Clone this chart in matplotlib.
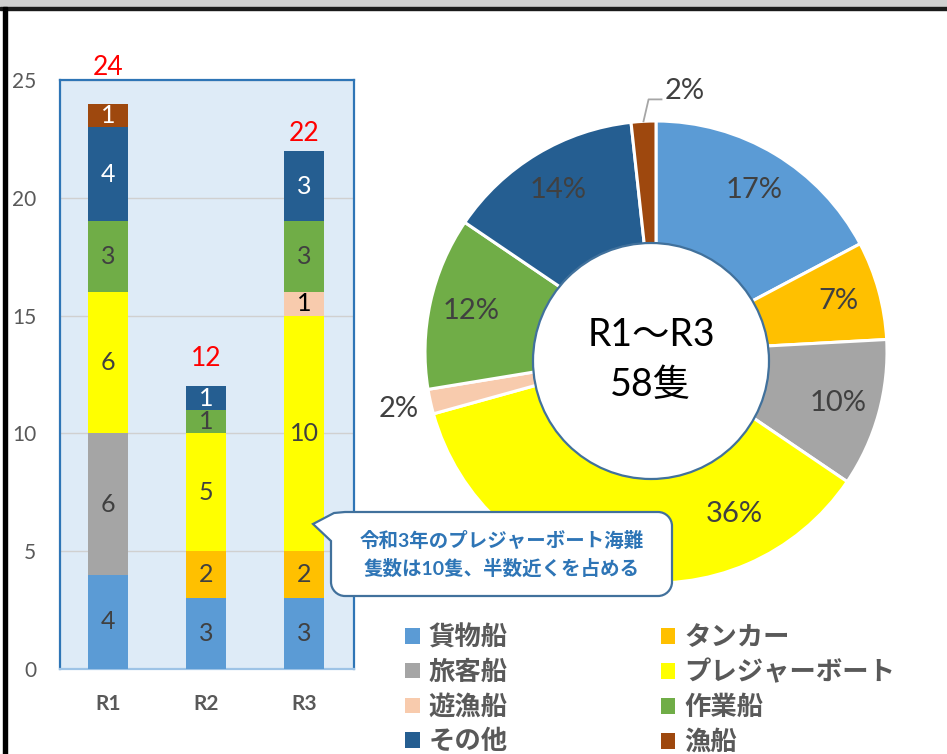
import numpy as np
import matplotlib.pyplot as plt
from matplotlib.patches import Rectangle, Circle, PathPatch
from matplotlib.path import Path

plt.rcParams['font.family'] = ['Lato', 'Noto Sans CJK JP', 'DejaVu Sans']

# --- データ ---
years = ['R1', 'R2', 'R3']
kinds = ['貨物船', 'タンカー', '旅客船', 'プレジャーボート', '遊漁船', '作業船', 'その他', '漁船']
counts = {
    '貨物船': [4, 3, 3],
    'タンカー': [0, 2, 2],
    '旅客船': [6, 0, 0],
    'プレジャーボート': [6, 5, 10],
    '遊漁船': [0, 0, 1],
    '作業船': [3, 1, 3],
    'その他': [4, 1, 3],
    '漁船': [1, 0, 0],
}
colors = ['#5B9BD5', '#FFC000', '#A5A5A5', '#FFFF00', '#F8CBAD', '#70AD47', '#255E91', '#9E480E']
label_colors = ['#404040', '#404040', '#404040', '#404040', '#000000', '#404040', 'white', 'white']
center_text = ['R1～R3', '58隻']
callout_lines = ['令和3年のプレジャーボート海難', '隻数は10隻、半数近くを占める']

W, H = 947, 754
fig = plt.figure(figsize=(W / 100, H / 100), dpi=100)

# 枠（上の灰色帯と左の黒線）
fig.patches.append(Rectangle((0, 1 - 7 / H), 1, 7 / H, transform=fig.transFigure, color='#D0D0D0', zorder=0))
fig.patches.append(Rectangle((0, 1 - 10 / H), 1, 3 / H, transform=fig.transFigure, color='#1A1A1A', zorder=0))
fig.patches.append(Rectangle((3 / W, 0), 4 / W, 1 - 7 / H, transform=fig.transFigure, color='#000000', zorder=0))

# --- 積み上げ棒グラフ ---
ax = fig.add_axes([60 / W, 85 / H, 294 / W, 589 / H])
ax.set_facecolor('#DEEBF7')
x = np.arange(len(years))
bottom = np.zeros(len(years))
for k, c, lc in zip(kinds, colors, label_colors):
    vals = np.array(counts[k])
    bars = ax.bar(x, vals, 0.4, bottom=bottom, color=c, zorder=3)
    ax.bar_label(bars, labels=[str(v) if v else '' for v in vals], label_type='center',
                 color=lc, fontsize=18)
    bottom += vals

total_pad = [1.55, 1.2, 0.75]
for i, t in enumerate(bottom):
    ax.text(i, t + total_pad[i], f'{int(t)}', color='red', fontsize=19, ha='center', va='center',
            clip_on=False)

ax.set_xlim(-0.49, 2.51)
ax.set_ylim(0, 25)
ax.set_yticks([0, 5, 10, 15, 20, 25])
ax.set_xticks(x, years)
ax.yaxis.grid(True, color='#D0D0D0', linewidth=1, zorder=0)
ax.tick_params(axis='y', length=0, pad=17, labelsize=15, labelcolor='#595959')
ax.tick_params(axis='x', length=0, pad=18, labelsize=15, labelcolor='#595959')
for lbl in ax.get_xticklabels():
    lbl.set_fontweight('bold')
for s in ax.spines.values():
    s.set_color('#2E75B6')
    s.set_linewidth(1.6)
ax.spines['bottom'].set_color('#9DC3E6')

# --- ドーナツグラフ ---
cx, cy, R = 656, 352, 231
pax = fig.add_axes([(cx - R) / W, (H - cy - R) / H, 2 * R / W, 2 * R / H])
totals = [sum(counts[k]) for k in kinds]
wedges, texts = pax.pie(totals, colors=colors, startangle=90, counterclock=False,
                        wedgeprops=dict(width=0.55, edgecolor='white', linewidth=2.2))
for t in texts:
    t.remove()
pax.set_xlim(-1, 1)
pax.set_ylim(-1, 1)
pax.set_aspect('equal')
pax.axis('off')

# 吹き出しと重ならないように移動したラベル
moved_label = {'プレジャーボート': (0.34, -0.70)}

grand = sum(totals)
for i, w in enumerate(wedges):
    ang = np.deg2rad((w.theta1 + w.theta2) / 2)
    pct = f'{round(totals[i] / grand * 100)}%'
    if kinds[i] in moved_label:
        lx, ly = moved_label[kinds[i]]
        pax.text(lx, ly, pct, fontsize=21, color='#404040', ha='center', va='center')
    elif totals[i] / grand < 0.03:
        if kinds[i] == '漁船':
            sx, sy = np.cos(ang), np.sin(ang)
            ex, ey = sx + 0.022, sy + 0.095
            pax.plot([sx, ex, ex + 0.056], [sy, ey, ey], color='#A6A6A6', lw=1.3, clip_on=False)
            pax.text(ex + 0.07, ey + 0.035, pct, fontsize=21, color='#404040', ha='left', va='center')
        else:
            pax.text(1.14 * np.cos(ang), 1.14 * np.sin(ang), pct, fontsize=21, color='#404040',
                     ha='center', va='center')
    else:
        pax.text(0.82 * np.cos(ang), 0.82 * np.sin(ang), pct, fontsize=21, color='#404040',
                 ha='center', va='center')

ox, oy = -5 / R, -9 / R
pax.add_patch(Circle((ox, oy), 118 / R, facecolor='white', edgecolor='#41719C', lw=1.6, zorder=5))
pax.text(ox, oy + 26 / R, center_text[0], fontsize=27, ha='center', va='center', zorder=6)
pax.text(ox, oy - 24 / R, center_text[1], fontsize=27, ha='center', va='center', zorder=6)

# --- 吹き出し ---
x0, x1, y0, y1, r = 331, 672, 512, 596, 14
k = 0.55 * r
pts = [(x0 + r, y0), (x1 - r, y0),
       (x1 - r + k, y0), (x1, y0 + r - k), (x1, y0 + r),
       (x1, y1 - r),
       (x1, y1 - r + k), (x1 - r + k, y1), (x1 - r, y1),
       (x0 + r, y1),
       (x0 + r - k, y1), (x0, y1 - r + k), (x0, y1 - r),
       (x0, 541), (313, 524), (334, 513), (x0 + r, y0)]
codes = [Path.MOVETO, Path.LINETO,
         Path.CURVE4, Path.CURVE4, Path.CURVE4,
         Path.LINETO,
         Path.CURVE4, Path.CURVE4, Path.CURVE4,
         Path.LINETO,
         Path.CURVE4, Path.CURVE4, Path.CURVE4,
         Path.LINETO, Path.LINETO, Path.LINETO, Path.CLOSEPOLY]
pts = [(px / W, 1 - py / H) for px, py in pts]
fig.patches.append(PathPatch(Path(pts, codes), transform=fig.transFigure, facecolor='white',
                             edgecolor='#41719C', lw=1.6, zorder=10))
for j, line in enumerate(callout_lines):
    fig.text((x0 + x1) / 2 / W, 1 - (540 + 28 * j) / H, line, fontsize=14, fontweight='bold',
             color='#2E75B6', ha='center', va='center', zorder=11)

# --- 凡例 ---
order = [0, 2, 4, 6, 1, 3, 5, 7]
leg = fig.legend([wedges[i] for i in order], [kinds[i] for i in order], ncol=2,
                 loc='upper left', bbox_to_anchor=(405 / W, 1 - 624 / H), frameon=False,
                 prop=dict(size=19, weight='bold'), labelcolor='#595959',
                 handlelength=0.55, handleheight=0.55, handletextpad=0.35,
                 labelspacing=0.38, columnspacing=5.8, borderpad=0, borderaxespad=0)
for h in leg.legend_handles:
    h.set_edgecolor('none')

fig.savefig('out.png', dpi=100)
